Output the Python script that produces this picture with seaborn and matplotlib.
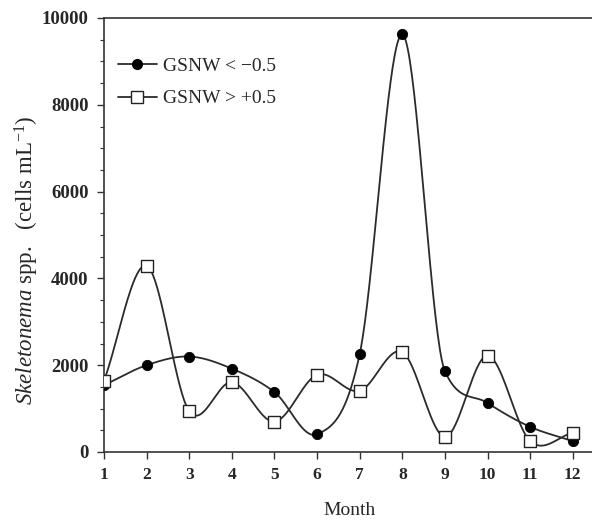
import numpy as np
import pandas as pd
import matplotlib
matplotlib.use("Agg")
import matplotlib.pyplot as plt
from matplotlib.lines import Line2D
from matplotlib.ticker import MultipleLocator
import seaborn as sns

months = [1, 2, 3, 4, 5, 6, 7, 8, 9, 10, 11, 12]
gsnw_neg = [1540, 2000, 2200, 1920, 1380, 410, 2260, 9620, 1860, 1130, 580, 250]
gsnw_pos = [1640, 4290, 940, 1610, 700, 1780, 1410, 2300, 350, 2220, 250, 440]
label_neg = "GSNW < \u22120.5"
label_pos = "GSNW > +0.5"
yticks = [0, 2000, 4000, 6000, 8000, 10000]


def smooth_curve(x, y, n=40):
    """Cardinal (Catmull-Rom) Hermite curve, tangents limited on monotone runs."""
    x = np.asarray(x, float)
    y = np.asarray(y, float)
    m = len(x)
    d = np.diff(y) / np.diff(x)
    t = np.zeros(m)
    t[0] = d[0]
    t[-1] = d[-1]
    for i in range(1, m - 1):
        cr = (y[i + 1] - y[i - 1]) / (x[i + 1] - x[i - 1])
        if d[i - 1] * d[i] > 0:
            lim = 3 * min(abs(d[i - 1]), abs(d[i]))
            cr = np.sign(cr) * min(abs(cr), lim)
        t[i] = cr
    xs, ys = [], []
    for i in range(m - 1):
        h = x[i + 1] - x[i]
        s = np.linspace(0, 1, n, endpoint=(i == m - 2))
        h00 = 2 * s**3 - 3 * s**2 + 1
        h10 = s**3 - 2 * s**2 + s
        h01 = -2 * s**3 + 3 * s**2
        h11 = s**3 - s**2
        xs.append(x[i] + s * h)
        ys.append(h00 * y[i] + h10 * h * t[i] + h01 * y[i + 1] + h11 * h * t[i + 1])
    return np.concatenate(xs), np.concatenate(ys)


sns.set_theme(style="ticks")
plt.rcParams["font.family"] = ["Liberation Serif", "DejaVu Serif"]
plt.rcParams["mathtext.fontset"] = "custom"
plt.rcParams["mathtext.rm"] = "Liberation Serif"
plt.rcParams["mathtext.it"] = "Liberation Serif:italic"

fig = plt.figure(figsize=(5.92, 5.21), dpi=100)
ax = fig.add_axes([104 / 592, 1 - 452 / 521, 1 - 104 / 592, (452 - 18) / 521])

lc = "#2b2b2b"
for vals in (gsnw_neg, gsnw_pos):
    sx, sy = smooth_curve(months, vals)
    sns.lineplot(x=sx, y=sy, ax=ax, color=lc, lw=1.3, sort=False, estimator=None)

sns.scatterplot(x=months, y=gsnw_neg, ax=ax, marker="o", s=55, color="black",
                edgecolor="black", zorder=5)
sns.scatterplot(x=months, y=gsnw_pos, ax=ax, marker="s", s=75, color="white",
                edgecolor="#222222", linewidth=1.0, zorder=6)

ax.set_xlim(1, 12.45)
ax.set_ylim(0, 10000)
ax.set_xticks(months)
ax.set_yticks(yticks)
ax.yaxis.set_minor_locator(MultipleLocator(500))
ax.tick_params(axis="both", which="major", direction="out", length=5, width=1,
               color="#333333", pad=6)
ax.tick_params(axis="x", labelsize=12.5)
ax.tick_params(axis="y", labelsize=13.5)
ax.tick_params(axis="y", which="minor", direction="out", length=3, width=0.8,
               color="#333333", left=True)
for lab in ax.get_xticklabels() + ax.get_yticklabels():
    lab.set_fontweight("bold")

for s in ("left", "bottom", "top"):
    ax.spines[s].set_color("#333333")
    ax.spines[s].set_linewidth(1.2)
ax.spines["right"].set_visible(False)

ax.set_xlabel("Month", fontsize=14)
ax.xaxis.set_label_coords((350 - 104) / 488, -(502 - 452) / 434)
ax.set_ylabel(r"$\mathit{Skeletonema}$ spp.   (cells mL$^{-1}$)", fontsize=16.5)
ax.yaxis.set_label_coords(-(104 - 41) / 488, (452 - 260) / 434)

handles = [
    Line2D([0], [0], color=lc, lw=1.3, marker="o", markersize=7,
           markerfacecolor="black", markeredgecolor="black"),
    Line2D([0], [0], color=lc, lw=1.3, marker="s", markersize=8.5,
           markerfacecolor="white", markeredgecolor="#222222"),
]
ax.legend(handles, [label_neg, label_pos], loc="upper left",
          bbox_to_anchor=(0.0, 0.94), frameon=False, fontsize=14,
          handlelength=2.0, handletextpad=0.35, labelspacing=0.75,
          borderaxespad=0.3)

fig.savefig("out.png", dpi=100)
